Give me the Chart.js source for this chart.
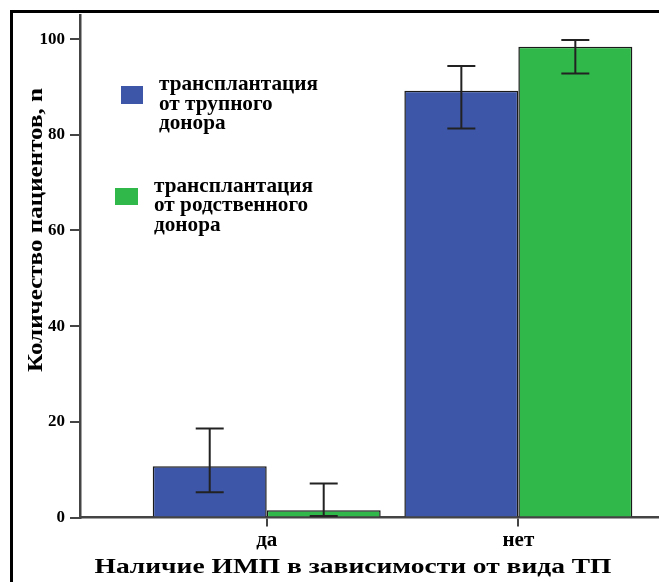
<!DOCTYPE html>
<html>
<head>
<meta charset="utf-8">
<script src="https://cdn.jsdelivr.net/npm/chart.js@4.4.1/dist/chart.umd.min.js"></script>
<style>
  html, body { margin: 0; padding: 0; background: #fff; }
</style>
</head>
<body>
<canvas id="chart" width="659" height="582"></canvas>
<script>
// data
const categories = ['да', 'нет'];
const cadaverLabel = ['трансплантация', 'от трупного', 'донора'];
const relatedLabel = ['трансплантация', 'от родственного', 'донора'];
const cadaverValues = [10.7, 89.2];
const cadaverLow = [5.3, 81.3];
const cadaverHigh = [18.6, 94.4];
const relatedValues = [1.5, 98.4];
const relatedLow = [0.3, 92.8];
const relatedHigh = [7.1, 99.8];
const yTicks = [0, 20, 40, 60, 80, 100];
const yTitle = 'Количество пациентов, n';
const xTitle = 'Наличие ИМП в зависимости от вида ТП';

const BLUE = '#3d56a8';
const GREEN = '#30b84a';
const SERIF = '"Liberation Serif", "Times New Roman", serif';

// draw text squeezed/stretched to a given width
function fitText(ctx, text, x, y, size, width, align) {
  ctx.save();
  ctx.font = 'bold ' + size + 'px ' + SERIF;
  const w = ctx.measureText(text).width;
  const k = width / w;
  ctx.translate(x, y);
  ctx.scale(k, 1);
  ctx.textAlign = align || 'left';
  ctx.textBaseline = 'alphabetic';
  ctx.fillText(text, 0, 0);
  ctx.restore();
}

const framePlugin = {
  id: 'frame',
  beforeDraw(chart) {
    const ctx = chart.ctx;
    ctx.save();
    ctx.strokeStyle = '#000';
    ctx.lineWidth = 3;
    ctx.beginPath();
    ctx.moveTo(11.5, 582);
    ctx.lineTo(11.5, 11.5);
    ctx.lineTo(659, 11.5);
    ctx.stroke();
    ctx.restore();
  }
};

const errorPlugin = {
  id: 'errors',
  afterDatasetsDraw(chart) {
    const ctx = chart.ctx;
    const y = chart.scales.y;
    const lows = [cadaverLow, relatedLow];
    const highs = [cadaverHigh, relatedHigh];
    ctx.save();
    ctx.strokeStyle = '#222';
    ctx.lineWidth = 2;
    chart.data.datasets.forEach((ds, d) => {
      chart.getDatasetMeta(d).data.forEach((bar, i) => {
        const top = y.getPixelForValue(highs[d][i]);
        const bot = y.getPixelForValue(lows[d][i]);
        ctx.beginPath();
        ctx.moveTo(bar.x, top); ctx.lineTo(bar.x, bot);
        ctx.moveTo(bar.x - 14, top); ctx.lineTo(bar.x + 14, top);
        ctx.moveTo(bar.x - 14, bot); ctx.lineTo(bar.x + 14, bot);
        ctx.stroke();
      });
    });
    ctx.restore();
  }
};

const textPlugin = {
  id: 'texts',
  afterDraw(chart) {
    const ctx = chart.ctx;
    ctx.save();
    // legend
    ctx.fillStyle = BLUE;
    ctx.fillRect(121, 86, 22, 18);
    ctx.fillStyle = GREEN;
    ctx.fillRect(115, 188, 23, 17);
    ctx.fillStyle = '#000';
    const k1 = 159;
    cadaverLabel.forEach((t, i) => {
      ctx.font = 'bold 21px ' + SERIF;
      const ref = ctx.measureText(cadaverLabel[0]).width;
      fitText(ctx, t, 159, 90 + i * 19.7, 21, ctx.measureText(t).width * k1 / ref);
    });
    relatedLabel.forEach((t, i) => {
      ctx.font = 'bold 21px ' + SERIF;
      const ref = ctx.measureText(relatedLabel[0]).width;
      fitText(ctx, t, 154, 192 + i * 19.3, 21, ctx.measureText(t).width * k1 / ref);
    });
    // x title
    fitText(ctx, xTitle, 353, 573, 21, 517, 'center');
    // y title
    ctx.save();
    ctx.translate(41.5, 230);
    ctx.rotate(-Math.PI / 2);
    fitText(ctx, yTitle, 0, 0, 22, 284, 'center');
    ctx.restore();
    ctx.restore();
  }
};

const tickFont = { family: SERIF, size: 17, weight: 'bold' };

const chart = new Chart(document.getElementById('chart').getContext('2d'), {
  type: 'bar',
  data: {
    datasets: [{
      label: cadaverLabel.join(' '),
      data: categories.map((c, i) => ({ x: i + 1, y: cadaverValues[i] })),
      backgroundColor: BLUE,
      borderColor: '#1a1a1a',
      borderWidth: 1.5,
      categoryPercentage: 0.906,
      barPercentage: 1
    }, {
      label: relatedLabel.join(' '),
      data: categories.map((c, i) => ({ x: i + 1, y: relatedValues[i] })),
      backgroundColor: GREEN,
      borderColor: '#1a1a1a',
      borderWidth: 1.5,
      categoryPercentage: 0.906,
      barPercentage: 1
    }]
  },
  options: {
    responsive: false,
    animation: false,
    devicePixelRatio: 1,
    layout: { padding: { top: 11, left: 0, right: 0, bottom: 0 } },
    plugins: { legend: { display: false }, tooltip: { enabled: false } },
    scales: {
      x: {
        type: 'linear',
        offset: false,
        min: 0.258,
        max: 2.559,
        afterBuildTicks: s => { s.ticks = categories.map((c, i) => ({ value: i + 1 })); },
        afterFit: s => { s.height = 64.5; },
        grid: { offset: false, drawOnChartArea: false, tickLength: 9, color: '#444', lineWidth: 2 },
        border: { color: '#444', width: 2.5 },
        ticks: {
          callback: v => categories[v - 1],
          font: { family: SERIF, size: 21, weight: 'bold' },
          color: '#000',
          padding: 1,
          maxRotation: 0,
          autoSkip: false
        }
      },
      y: {
        min: 0,
        max: 105,
        afterBuildTicks: s => { s.ticks = yTicks.map(v => ({ value: v })); },
        afterFit: s => { s.width = 80; },
        grid: { drawOnChartArea: false, tickLength: 10, color: '#444', lineWidth: 2 },
        border: { color: '#444', width: 2.5 },
        ticks: { font: tickFont, color: '#000', padding: 5 }
      }
    }
  },
  plugins: [framePlugin, errorPlugin, textPlugin]
});
</script>
</body>
</html>
